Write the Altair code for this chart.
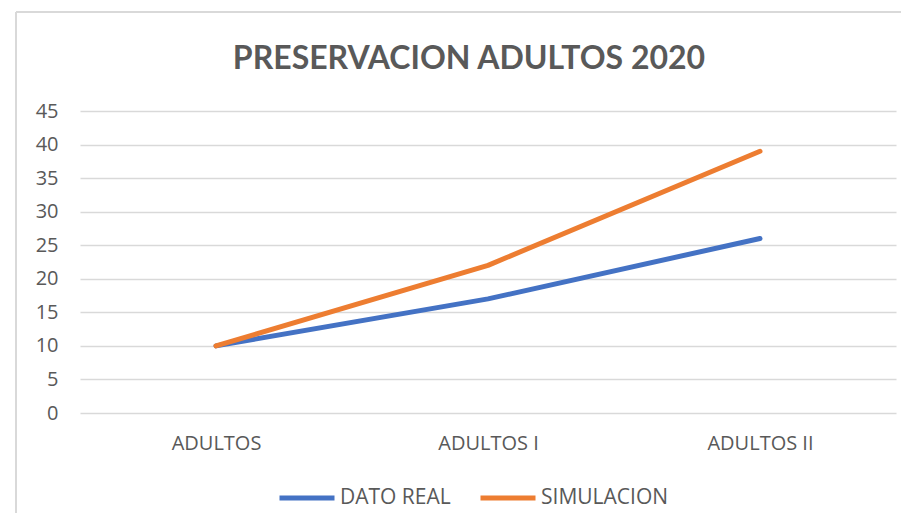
import altair as alt
import pandas as pd

categories = ["ADULTOS", "ADULTOS I", "ADULTOS II"]
dato_real = [10, 17, 26]
simulacion = [10, 22, 39]
series_names = ["DATO REAL", "SIMULACION"]
colors = ["#4472C4", "#ED7D31"]
title_text = "PRESERVACION ADULTOS 2020"

rows = []
for c, v in zip(categories, dato_real):
    rows.append({"cat": c, "value": v, "serie": series_names[0]})
for c, v in zip(categories, simulacion):
    rows.append({"cat": c, "value": v, "serie": series_names[1]})
df = pd.DataFrame(rows)

W, H = 816, 302
FONT = "Open Sans"
GREY = "#595959"

lines = alt.Chart(df).mark_line(strokeWidth=5, strokeCap="round", strokeJoin="round").encode(
    x=alt.X("cat:N", sort=categories, title=None,
            scale=alt.Scale(type="point", padding=0.5),
            axis=alt.Axis(labelAngle=0, domain=False, ticks=False, grid=False,
                          labelFontSize=20, labelColor=GREY, labelFont=FONT, labelPadding=20)),
    y=alt.Y("value:Q", title=None,
            scale=alt.Scale(domain=[0, 45], nice=False),
            axis=alt.Axis(values=list(range(0, 50, 5)), domain=False, ticks=False,
                          gridColor="#d9d9d9", gridWidth=1.3,
                          labelFontSize=20, labelColor=GREY, labelFont=FONT, labelPadding=22)),
    color=alt.Color("serie:N", sort=series_names,
                    scale=alt.Scale(domain=series_names, range=colors),
                    legend=alt.Legend(title=None, orient="none", direction="horizontal",
                                      legendX=197, legendY=357,
                                      symbolType="stroke", symbolSize=3025, symbolStrokeWidth=5,
                                      labelFontSize=21, labelColor=GREY, labelFont=FONT,
                                      columnPadding=19, labelOffset=3)),
)

title = alt.Chart(pd.DataFrame({"t": [title_text]})).mark_text(
    font="Lato", fontSize=32, fontWeight="bold", color=GREY,
    align="center", baseline="alphabetic").encode(
    text="t:N", x=alt.value(389), y=alt.value(-42))

border_top = alt.Chart(df).mark_rule(color="#d9d9d9", strokeWidth=1.5).encode(
    x=alt.value(-64), x2=alt.value(W + 40), y=alt.value(-99))
border_left = alt.Chart(df).mark_rule(color="#d9d9d9", strokeWidth=1.5).encode(
    x=alt.value(-64), y=alt.value(-99), y2=alt.value(H + 140))

chart = alt.layer(border_top, border_left, title, lines).properties(
    width=W, height=H,
    autosize=alt.AutoSizeParams(type="none"),
    padding={"left": 72, "top": 103, "right": 5, "bottom": 100},
).configure_view(stroke=None)

chart.save("out.html", embed_options={"renderer": "svg", "actions": False})
